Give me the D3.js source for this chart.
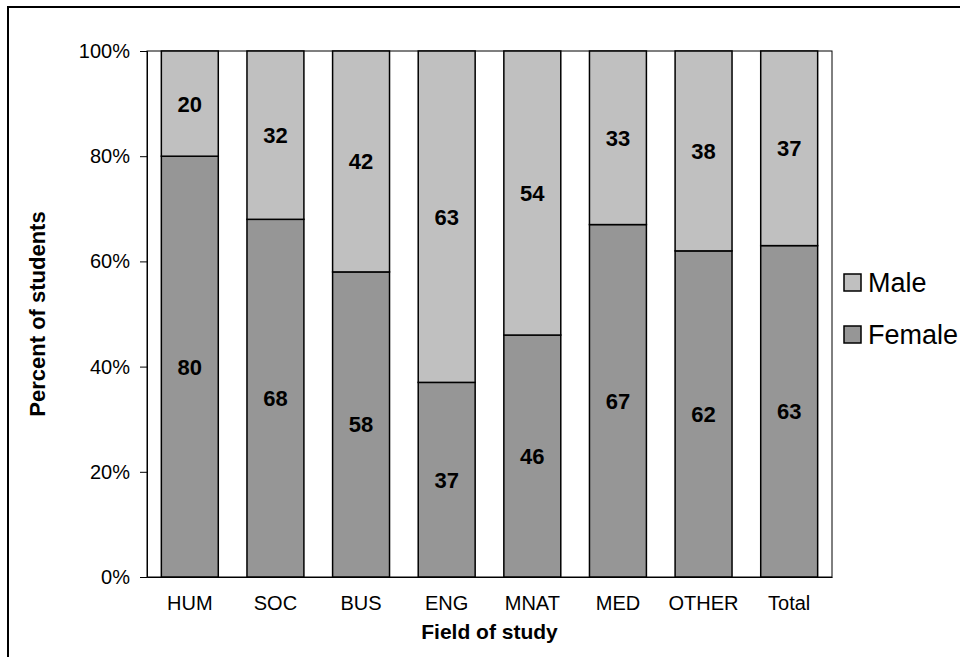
<!DOCTYPE html>
<html>
<head>
<meta charset="utf-8">
<script src="https://cdn.jsdelivr.net/npm/d3@7"></script>
<style>
  body { margin: 0; background: #fff; }
  svg { display: block; font-family: Arial, "Liberation Sans", sans-serif; }
</style>
</head>
<body>
<svg width="960" height="657"></svg>
<script>
var fields = ["HUM", "SOC", "BUS", "ENG", "MNAT", "MED", "OTHER", "Total"];
var female = [80, 68, 58, 37, 46, 67, 62, 63];
var male = [20, 32, 42, 63, 54, 33, 38, 37];
var yTicks = [0, 20, 40, 60, 80, 100];
var seriesNames = ["Male", "Female"];
var seriesColors = ["#c0c0c0", "#969696"];

var svg = d3.select("svg"),
    margin = {left: 147, top: 51, right: 832, bottom: 577};

// outer chart border (only top and left visible)
svg.append("rect")
    .attr("x", 8).attr("y", 7)
    .attr("width", 1000).attr("height", 700)
    .attr("fill", "none").attr("stroke", "#000").attr("stroke-width", 2);

var x = d3.scaleBand().domain(fields)
    .range([margin.left, margin.right])
    .paddingInner(0.335).paddingOuter(0.1675);

var y = d3.scaleLinear().domain([0, 100]).range([margin.bottom, margin.top]);

var rows = fields.map(function(f, i) { return {field: f, Female: female[i], Male: male[i]}; });
var stack = d3.stack().keys(["Female", "Male"])(rows);

// plot area border
svg.append("rect")
    .attr("x", margin.left).attr("y", margin.top)
    .attr("width", margin.right - margin.left)
    .attr("height", margin.bottom - margin.top)
    .attr("fill", "none").attr("stroke", "#000").attr("stroke-width", 1);

var colorOf = {Female: "#969696", Male: "#c0c0c0"};

var layer = svg.append("g").selectAll("g")
    .data(stack).enter().append("g")
    .attr("fill", function(d) { return colorOf[d.key]; });

layer.selectAll("rect")
    .data(function(d) { return d; })
    .enter().append("rect")
    .attr("x", function(d) { return x(d.data.field); })
    .attr("y", function(d) { return y(d[1]); })
    .attr("width", x.bandwidth())
    .attr("height", function(d) { return y(d[0]) - y(d[1]); })
    .attr("stroke", "#000").attr("stroke-width", 1.5);

layer.selectAll("text")
    .data(function(d) { return d; })
    .enter().append("text")
    .attr("x", function(d) { return x(d.data.field) + x.bandwidth() / 2; })
    .attr("y", function(d) { return (y(d[0]) + y(d[1])) / 2; })
    .attr("dy", "0.36em")
    .attr("text-anchor", "middle")
    .attr("fill", "#000")
    .style("font-size", "22px").style("font-weight", "bold")
    .text(function(d) { return d[1] - d[0]; });

// y axis
var yAxis = svg.append("g")
    .attr("transform", "translate(" + margin.left + ",0)")
    .call(d3.axisLeft(y).tickValues(yTicks).tickSize(7).tickPadding(10)
        .tickFormat(function(d) { return d + "%"; }));
yAxis.selectAll("text").style("font-size", "20px").attr("fill", "#000");
yAxis.selectAll("line").attr("stroke", "#000");
yAxis.select(".domain").attr("stroke", "#000");

// x axis
var xAxis = svg.append("g")
    .attr("transform", "translate(0," + margin.bottom + ")")
    .call(d3.axisBottom(x).tickSize(0).tickPadding(19));
xAxis.selectAll("text").style("font-size", "20px").attr("fill", "#000");
xAxis.select(".domain").attr("stroke", "#000");

// axis titles
svg.append("text")
    .attr("transform", "translate(45," + (margin.top + margin.bottom) / 2 + ") rotate(-90)")
    .attr("text-anchor", "middle")
    .style("font-size", "22px").style("font-weight", "bold")
    .text("Percent of students");

svg.append("text")
    .attr("x", (margin.left + margin.right) / 2).attr("y", 639)
    .attr("text-anchor", "middle")
    .style("font-size", "21px").style("font-weight", "bold")
    .text("Field of study");

// legend
var legend = svg.append("g").selectAll("g")
    .data(seriesNames).enter().append("g")
    .attr("transform", function(d, i) { return "translate(844," + (274 + i * 52) + ")"; });
legend.append("rect")
    .attr("width", 17).attr("height", 17)
    .attr("fill", function(d, i) { return seriesColors[i]; })
    .attr("stroke", "#000").attr("stroke-width", 1.5);
legend.append("text")
    .attr("x", 24).attr("y", 18)
    .style("font-size", "27px")
    .text(function(d) { return d; });
</script>
</body>
</html>
